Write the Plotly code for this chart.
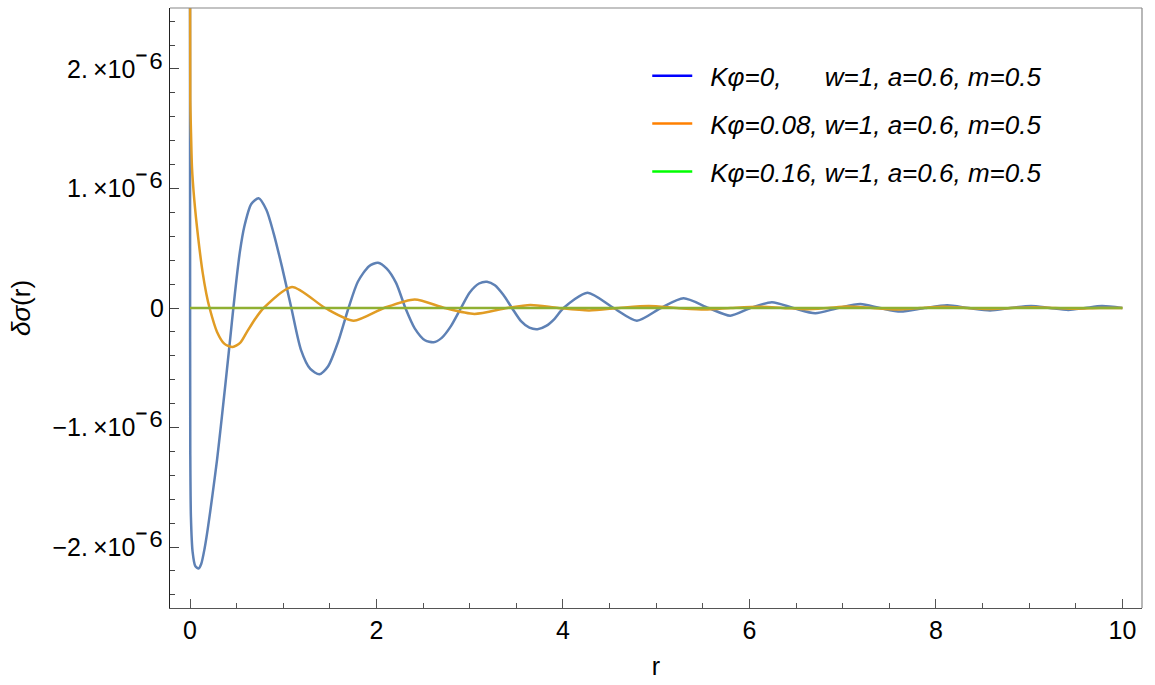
import plotly.graph_objects as go

# ---- data (y values in units of 1e-6) ----
r_blue = [0.0, 0.001, 0.003, 0.01, 0.028, 0.057, 0.092, 0.121, 0.157, 0.19, 0.24, 0.29,
          0.325, 0.36, 0.397, 0.432, 0.465, 0.50, 0.535, 0.582, 0.657, 0.736, 0.82, 0.897,
          0.986, 1.087, 1.19, 1.29, 1.388, 1.48, 1.59, 1.70, 1.80, 1.92, 2.016, 2.11, 2.21,
          2.31, 2.41, 2.52, 2.612, 2.70, 2.80, 2.906, 3.00, 3.10, 3.185, 3.27, 3.36, 3.453,
          3.55, 3.64, 3.727, 3.82, 3.91, 4.006, 4.264, 4.543, 4.793, 5.05, 5.293, 5.561,
          5.794, 6.01, 6.241, 6.47, 6.706, 6.95, 7.19, 7.40, 7.62, 7.88, 8.12, 8.35, 8.58,
          8.80, 9.02, 9.22, 9.42, 9.60, 9.78, 10.0]
s_blue = [3.0, 0.5, -1.2, -1.75, -2.04, -2.16, -2.18, -2.14, -2.01, -1.85, -1.57, -1.27,
          -1.03, -0.78, -0.51, -0.25, 0.0, 0.25, 0.47, 0.68, 0.87, 0.918, 0.82, 0.625,
          0.346, 0.0, -0.35, -0.51, -0.555, -0.49, -0.28, 0.0, 0.22, 0.35, 0.379, 0.33, 0.21,
          0.0, -0.17, -0.27, -0.287, -0.25, -0.15, 0.0, 0.13, 0.205, 0.22, 0.19, 0.11, 0.0,
          -0.11, -0.165, -0.178, -0.15, -0.09, 0.0, 0.128, 0.0, -0.106, 0.0, 0.081, 0.0,
          -0.064, 0.0, 0.048, 0.0, -0.044, 0.0, 0.033, 0.0, -0.03, 0.0, 0.022, 0.0, -0.02,
          0.0, 0.017, 0.0, -0.016, 0.0, 0.016, 0.0]

r_orange = [0.0, 0.003, 0.011, 0.021, 0.046, 0.086, 0.135, 0.175, 0.21, 0.29, 0.37, 0.457,
            0.54, 0.611, 0.70, 0.79, 1.094, 1.45, 1.755, 2.08, 2.41, 2.73, 3.05, 3.40, 3.65,
            3.95, 4.28, 4.60, 4.92, 5.22, 5.52, 5.80, 6.10, 6.36, 6.62, 6.84, 7.05, 7.32,
            7.58, 7.83, 8.08, 8.32, 8.55, 8.80, 9.05, 9.28, 9.50, 9.75, 10.0]
s_orange = [3.0, 1.74, 1.46, 1.18, 0.904, 0.60, 0.30, 0.12, 0.0, -0.20, -0.30, -0.326,
            -0.29, -0.20, -0.09, 0.0, 0.176, 0.0, -0.106, 0.0, 0.072, 0.0, -0.05, 0.0, 0.026,
            0.0, -0.02, 0.0, 0.016, 0.0, -0.013, 0.0, 0.011, 0.0, -0.01, 0.0, 0.012, 0.0,
            -0.012, 0.0, 0.01, 0.0, -0.009, 0.0, 0.007, 0.0, -0.006, 0.0, 0.0]

r_green = [0.0, 10.0]
s_green = [0.0, 0.0]

legend_labels = [
    "\u2002Kφ=0,\u00a0\u00a0\u00a0\u00a0\u00a0 w=1, a=0.6, m=0.5",
    "\u2002Kφ=0.08, w=1, a=0.6, m=0.5",
    "\u2002Kφ=0.16, w=1, a=0.6, m=0.5",
]
curve_colors = ["#5E81B5", "#E19C24", "#8FB032"]
legend_colors = ["#0000FF", "#FF8000", "#00FF00"]

y_tick_vals = [-2, -1, 0, 1, 2]
sup = "<span style='font-size:38px'>⁻⁶</span>"
y_tick_text = ["−2.\u2009×10" + sup, "−1.\u2009×10" + sup, "0",
               "1.\u2009×10" + sup, "2.\u2009×10" + sup]
x_tick_vals = [0, 2, 4, 6, 8, 10]

scale = 1e-6

fig = go.Figure()
for rr, ss, col in [(r_blue, s_blue, curve_colors[0]),
                    (r_orange, s_orange, curve_colors[1]),
                    (r_green, s_green, curve_colors[2])]:
    fig.add_trace(go.Scatter(x=rr, y=[v * scale for v in ss], mode="lines",
                             line=dict(color=col, width=2.5, shape="spline", smoothing=0.7),
                             showlegend=False, hoverinfo="skip"))

for i, (lab, col) in enumerate(zip(legend_labels, legend_colors)):
    fig.add_trace(go.Scatter(x=[None], y=[None], mode="lines", name=lab,
                             line=dict(color=col, width=2.5), legendgroup=f"g{i}",
                             showlegend=True))

font_main = "Liberation Sans, Arial, sans-serif"

fig.update_layout(
    width=1155, height=685,
    margin=dict(l=170, r=13, t=8, b=77),
    paper_bgcolor="white", plot_bgcolor="white",
    font=dict(family=font_main, color="black", size=24),
    legend=dict(x=0.491, y=0.926, xanchor="left", yanchor="top",
                bgcolor="rgba(0,0,0,0)", tracegroupgap=11, itemwidth=40,
                font=dict(size=26, style="italic", family=font_main)),
    xaxis=dict(range=[-0.2145, 10.21], showgrid=False, zeroline=False,
               showline=True, linecolor="#555555", linewidth=1,
               tickmode="array", tickvals=x_tick_vals, ticks="inside", ticklen=9,
               tickcolor="#555555", tickwidth=1,
               minor=dict(tickmode="linear", tick0=0, dtick=0.5, ticks="inside",
                          ticklen=5, tickcolor="#555555", tickwidth=1),
               tickfont=dict(size=25),
               title=dict(text="r", font=dict(size=25), standoff=14)),
    yaxis=dict(range=[-2.51e-6, 2.51e-6], showgrid=False, zeroline=False,
               showline=True, linecolor="#222222", linewidth=1,
               tickmode="array", tickvals=[v * scale for v in y_tick_vals],
               ticktext=y_tick_text, ticks="inside", ticklen=9,
               tickcolor="#444444", tickwidth=1,
               minor=dict(tickmode="linear", tick0=0, dtick=0.2e-6, ticks="inside",
                          ticklen=5, tickcolor="#444444", tickwidth=1),
               tickfont=dict(size=25),
               title=dict(text="<i>δσ</i>(r)", font=dict(size=26), standoff=14)),
)

# top and right frame lines
fig.add_shape(type="line", xref="paper", yref="paper", x0=0, x1=1, y0=1, y1=1,
              line=dict(color="#888888", width=1.2))
fig.add_shape(type="line", xref="paper", yref="paper", x0=1, x1=1, y0=0, y1=1,
              line=dict(color="#888888", width=1.2))

fig.write_html("out.html")
